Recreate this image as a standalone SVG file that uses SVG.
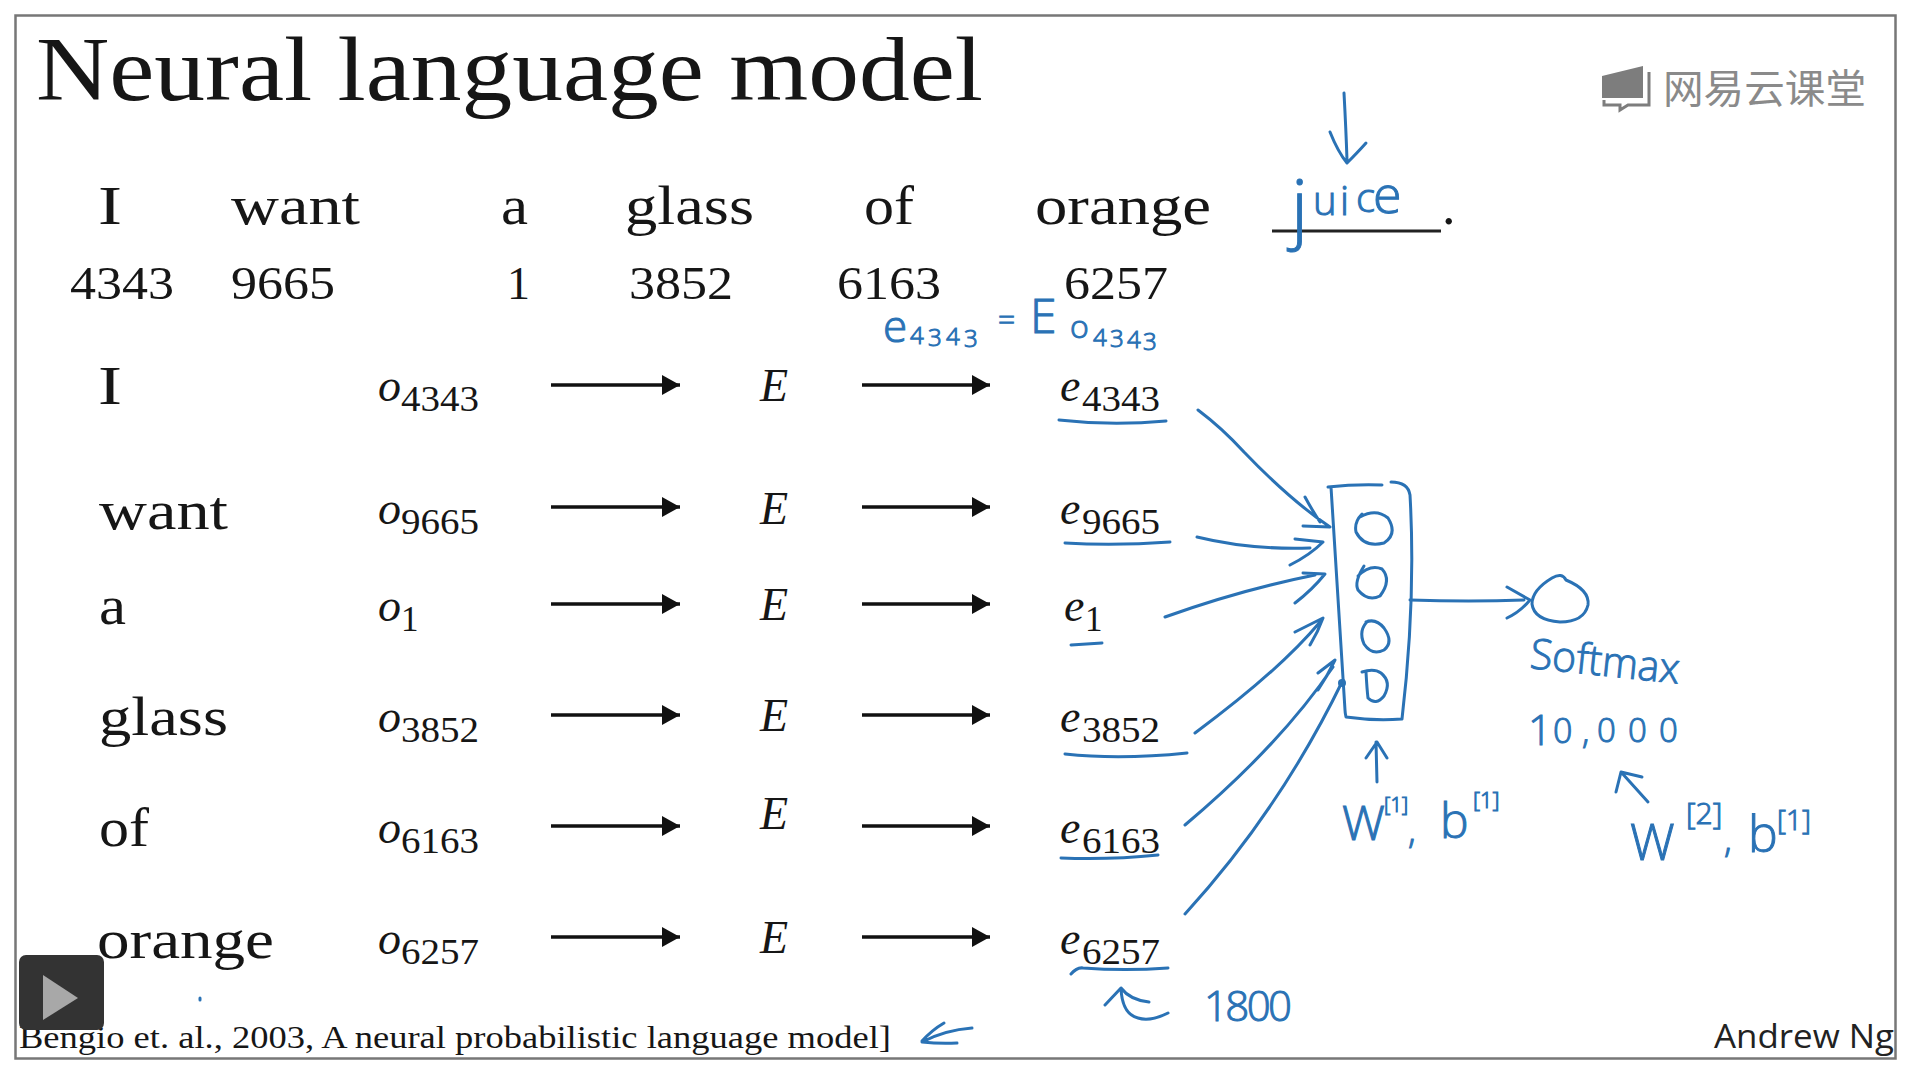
<svg xmlns="http://www.w3.org/2000/svg" width="1911" height="1074" viewBox="0 0 1911 1074">
<style>
.t{font-family:"Liberation Serif","DejaVu Serif",serif;fill:#161616}
.w{font-size:54px}.n{font-size:46px}
.i{font-style:italic;font-size:46px}
.s{font-size:35px}
.a{stroke:#111;stroke-width:3.500;fill:none;marker-end:url(#h)}
.b{fill:none;stroke:#2a72b5;stroke-width:3;stroke-linecap:round;stroke-linejoin:round}
.h{font-family:"Open Sans","Liberation Sans",sans-serif;font-weight:300;fill:#2a72b5;stroke:#2a72b5;stroke-width:1}
</style>
<defs><marker id="h" markerUnits="userSpaceOnUse" markerWidth="20" markerHeight="22" refX="18" refY="11" orient="auto"><path d="M0 1L18 11L0 21Z" fill="#111"/></marker></defs>
<rect width="1911" height="1074" fill="#fff"/>
<rect x="15.500" y="15.500" width="1880" height="1043" fill="#fff" stroke="#777" stroke-width="2.500"/>
<g id="title"><text class="t" x="36" y="100" font-size="90" fill="#0a0a0a" textLength="947" lengthAdjust="spacingAndGlyphs">Neural language model</text></g>
<g id="logo"><path d="M1602 76L1643 66V98H1602Z" fill="#7d7d7d"/><path d="M1649 72V105H1628L1620 110V105H1604V100" fill="none" stroke="#7d7d7d" stroke-width="3"/><text x="1663" y="103" font-family="'Noto Sans CJK SC',sans-serif" font-size="40" fill="#8a8a8a" textLength="203" lengthAdjust="spacingAndGlyphs">网易云课堂</text></g>
<g id="sentence">
<text class="t w" x="98" y="224" textLength="24" lengthAdjust="spacingAndGlyphs">I</text><text class="t w" x="231" y="224" textLength="129" lengthAdjust="spacingAndGlyphs">want</text><text class="t w" x="501" y="224" textLength="27" lengthAdjust="spacingAndGlyphs">a</text><text class="t w" x="625" y="224" textLength="129" lengthAdjust="spacingAndGlyphs">glass</text><text class="t w" x="864" y="224" textLength="50" lengthAdjust="spacingAndGlyphs">of</text><text class="t w" x="1035" y="224" textLength="176" lengthAdjust="spacingAndGlyphs">orange</text><text class="t w" x="1442" y="224">.</text>
<text class="t n" x="70" y="299" textLength="104" lengthAdjust="spacingAndGlyphs">4343</text><text class="t n" x="231" y="299" textLength="104" lengthAdjust="spacingAndGlyphs">9665</text><text class="t n" x="507" y="299">1</text><text class="t n" x="629" y="299" textLength="104" lengthAdjust="spacingAndGlyphs">3852</text><text class="t n" x="837" y="299" textLength="104" lengthAdjust="spacingAndGlyphs">6163</text><text class="t n" x="1064" y="299" textLength="104" lengthAdjust="spacingAndGlyphs">6257</text>
<path d="M1272 231H1441" stroke="#222" stroke-width="3"/>
</g>
<g id="row-i"><text class="t w" x="98" y="404" textLength="24" lengthAdjust="spacingAndGlyphs">I</text><text class="t i" x="378" y="401">o</text><text class="t s" x="401" y="411" textLength="78" lengthAdjust="spacingAndGlyphs">4343</text><text class="t i" x="760" y="401">E</text><text class="t i" x="1060" y="401">e</text><text class="t s" x="1082" y="411" textLength="78" lengthAdjust="spacingAndGlyphs">4343</text></g>
<g id="row-want"><text class="t w" x="99" y="529" textLength="129" lengthAdjust="spacingAndGlyphs">want</text><text class="t i" x="378" y="524">o</text><text class="t s" x="401" y="534" textLength="78" lengthAdjust="spacingAndGlyphs">9665</text><text class="t i" x="760" y="524">E</text><text class="t i" x="1060" y="524">e</text><text class="t s" x="1082" y="534" textLength="78" lengthAdjust="spacingAndGlyphs">9665</text></g>
<g id="row-a"><text class="t w" x="99" y="624" textLength="27" lengthAdjust="spacingAndGlyphs">a</text><text class="t i" x="378" y="621">o</text><text class="t s" x="401" y="631">1</text><text class="t i" x="760" y="620">E</text><text class="t i" x="1064" y="621">e</text><text class="t s" x="1085" y="631">1</text></g>
<g id="row-glass"><text class="t w" x="99" y="735" textLength="129" lengthAdjust="spacingAndGlyphs">glass</text><text class="t i" x="378" y="732">o</text><text class="t s" x="401" y="742" textLength="78" lengthAdjust="spacingAndGlyphs">3852</text><text class="t i" x="760" y="731">E</text><text class="t i" x="1060" y="732">e</text><text class="t s" x="1082" y="742" textLength="78" lengthAdjust="spacingAndGlyphs">3852</text></g>
<g id="row-of"><text class="t w" x="99" y="846" textLength="50" lengthAdjust="spacingAndGlyphs">of</text><text class="t i" x="378" y="843">o</text><text class="t s" x="401" y="853" textLength="78" lengthAdjust="spacingAndGlyphs">6163</text><text class="t i" x="760" y="829">E</text><text class="t i" x="1060" y="843">e</text><text class="t s" x="1082" y="853" textLength="78" lengthAdjust="spacingAndGlyphs">6163</text></g>
<g id="row-orange"><text class="t w" x="97" y="958" textLength="177" lengthAdjust="spacingAndGlyphs">orange</text><text class="t i" x="378" y="954">o</text><text class="t s" x="401" y="964" textLength="78" lengthAdjust="spacingAndGlyphs">6257</text><text class="t i" x="760" y="953">E</text><text class="t i" x="1060" y="954">e</text><text class="t s" x="1082" y="964" textLength="78" lengthAdjust="spacingAndGlyphs">6257</text></g>
<g id="connectors">
<path class="a" d="M551 385H680"/><path class="a" d="M862 385H990"/>
<path class="a" d="M551 507H680"/><path class="a" d="M862 507H990"/>
<path class="a" d="M551 604H680"/><path class="a" d="M862 604H990"/>
<path class="a" d="M551 715H680"/><path class="a" d="M862 715H990"/>
<path class="a" d="M551 826H680"/><path class="a" d="M862 826H990"/>
<path class="a" d="M551 937H680"/><path class="a" d="M862 937H990"/>
</g>
<g id="citation"><text class="t" x="19" y="1048" font-size="32" textLength="872" lengthAdjust="spacingAndGlyphs">Bengio et. al., 2003, A neural probabilistic language model]</text></g>
<g id="andrew"><text x="1714" y="1048" font-family="'Open Sans',sans-serif" font-size="33" fill="#222" textLength="180" lengthAdjust="spacingAndGlyphs">Andrew Ng</text></g>
<g id="play"><rect x="19" y="955" width="85" height="75" rx="7" fill="#333"/><path d="M43 975L78 998L43 1020Z" fill="#a8a8a8"/></g>
<g id="ink">
<path class="b" d="M1344 93Q1346 130 1347 160M1330 132Q1338 152 1347 163Q1358 152 1366 143"/>
<path class="b" d="M922 1041Q932 1030 944 1023M972 1028Q945 1030 922 1042Q940 1044 957 1043"/>
<path class="b" d="M200 998v2"/>
<path class="b" d="M1059 420Q1111 426 1166 421M1065 543Q1115 546 1170 542M1071 645L1102 643M1065 754Q1120 760 1187 753M1061 858Q1110 860 1158 855M1071 974Q1077 967 1083 968Q1125 971 1168 968"/>
<path class="b" d="M1328 487Q1355 484 1382 485M1391 482Q1408 482 1410 495Q1416 600 1402 719Q1374 721 1346 717Q1345 712 1345 710Q1338 600 1331 487"/>
<path class="b" d="M1360 517Q1376 508 1388 518Q1398 534 1384 543Q1364 548 1356 532Q1354 522 1362 514"/>
<path class="b" d="M1364 566Q1354 582 1358 590Q1368 602 1380 596Q1392 580 1382 569Q1370 564 1358 576"/>
<path class="b" d="M1366 622Q1376 618 1384 628Q1394 642 1384 650Q1372 656 1364 644Q1358 630 1368 621"/>
<path class="b" d="M1366 672Q1367 690 1368 698Q1376 706 1384 696Q1392 682 1381 673Q1374 668 1362 672"/>
<path class="b" d="M1198 410Q1222 428 1244 452Q1290 500 1330 527M1305 497Q1312 510 1320 522M1303 526L1330 527"/>
<path class="b" d="M1197 537Q1250 550 1310 548M1295 539L1323 542Q1310 555 1290 565"/>
<path class="b" d="M1165 617Q1240 590 1315 575M1303 573L1325 574Q1312 590 1295 603"/>
<path class="b" d="M1195 733Q1280 670 1320 622M1295 632L1323 618Q1318 632 1310 645"/>
<path class="b" d="M1185 825Q1280 745 1333 667M1318 673L1335 660Q1328 675 1318 690"/>
<path class="b" d="M1185 914Q1280 810 1343 680"/><circle cx="1342" cy="683" r="4" fill="#2a72b5"/>
<path class="b" d="M1410 600Q1470 602 1524 600M1507 587L1530 600Q1520 612 1507 618"/>
<path class="b" d="M1552 578Q1562 572 1566 580Q1590 590 1588 605Q1584 622 1560 622Q1534 620 1532 604Q1532 590 1552 578"/>
<path class="b" d="M1377 782L1376 742M1366 758L1377 742L1387 758"/>
<path class="b" d="M1648 802L1621 772M1616 792L1621 772L1642 777"/>
<path class="b" d="M1168 1013Q1150 1022 1138 1018Q1122 1014 1121 988M1105 1005L1121 988Q1130 1000 1149 1002"/>
<text class="h" id="juice"><tspan x="1291" y="234" font-size="76">j</tspan><tspan font-size="40" x="1313 1340 1356" y="215 215 212">uic</tspan><tspan font-size="52" x="1373" y="213">e</tspan></text>
<text class="h" x="1529" y="668" font-size="42" textLength="150" lengthAdjust="spacingAndGlyphs" transform="rotate(6 1529 668)">Softmax</text>
<text class="h" id="vocab"><tspan x="1528" y="745" font-size="42">1</tspan><tspan font-size="34" x="1553" y="743">0</tspan><tspan font-size="34" x="1582" y="743">,</tspan><tspan font-size="33" x="1597 1628 1659" y="742 742 742">000</tspan></text>
<text class="h" x="1204" y="1021" font-size="42" textLength="88" lengthAdjust="spacing">1800</text>
<text class="h" id="equation"><tspan x="883" y="342" font-size="44">e</tspan><tspan font-size="24" x="910 928 946 964" y="344 346 345 347">4343</tspan><tspan x="998" y="330" font-size="30">=</tspan><tspan x="1030" y="333" font-size="48">E</tspan><tspan x="1070" y="338" font-size="32">o</tspan><tspan font-size="24" x="1093 1110 1127 1143" y="346 347 348 350">4343</tspan></text>
<text class="h" id="w1"><tspan x="1342" y="840" font-size="48">W</tspan><tspan x="1384" y="812" font-size="20">[1]</tspan><tspan x="1408" y="843" font-size="36">,</tspan><tspan x="1440" y="838" font-size="48">b</tspan><tspan x="1473" y="808" font-size="22">[1]</tspan></text>
<text class="h" id="w2"><tspan x="1630" y="860" font-size="50">W</tspan><tspan x="1686" y="824" font-size="30">[2]</tspan><tspan x="1724" y="852" font-size="36">,</tspan><tspan x="1748" y="852" font-size="50">b</tspan><tspan x="1777" y="830" font-size="28">[1]</tspan></text>
</g>
</svg>
